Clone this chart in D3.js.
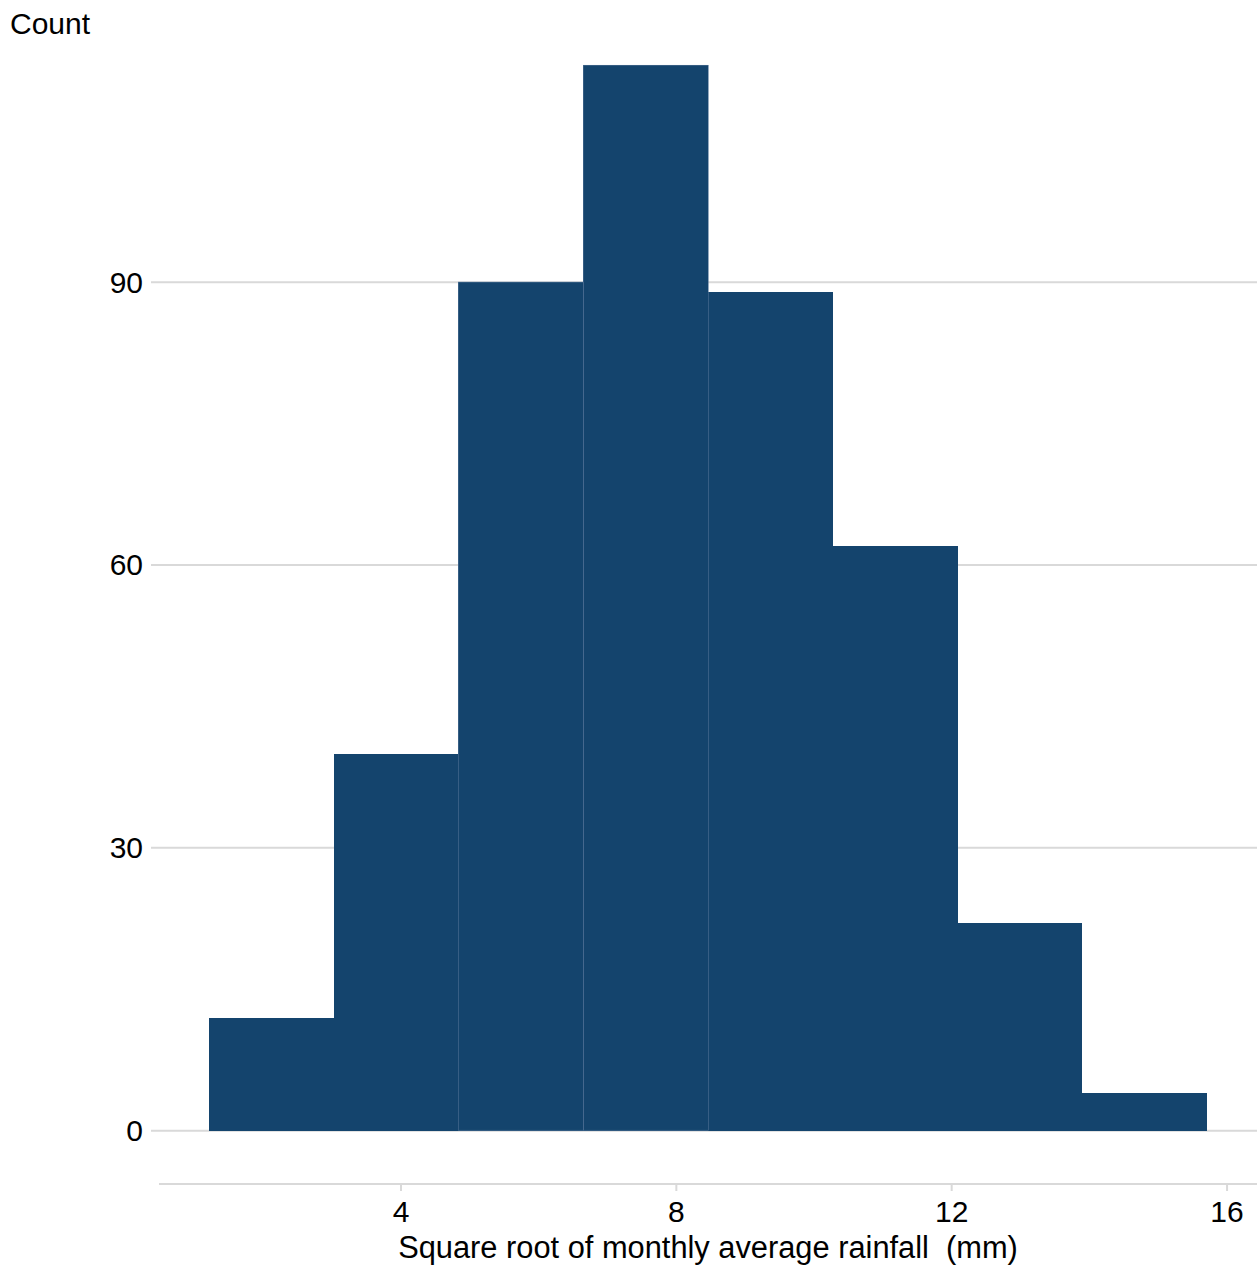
<!DOCTYPE html>
<html><head><meta charset="utf-8">
<script src="https://cdn.jsdelivr.net/npm/d3@7"></script>
<style>body{margin:0;background:#fff}svg{display:block;font-family:"Liberation Sans",Arial,sans-serif}</style>
</head><body>
<script>
const binEdges = [1.21, 3.0225, 4.835, 6.6475, 8.46, 10.2725, 12.085, 13.8975, 15.71];
const counts = [12, 40, 90, 113, 89, 62, 22, 4];
const yTicks = [0, 30, 60, 90];
const xTicks = [4, 8, 12, 16];
const xTitle = "Square root of monthly average rainfall  (mm)";
const yTitle = "Count";

const W = 1257, H = 1268;
const svg = d3.select("body").append("svg").attr("width", W).attr("height", H);

const xr = binEdges[binEdges.length-1] - binEdges[0];
const ymax = d3.max(counts);
const x = d3.scaleLinear().domain([binEdges[0] - 0.05*xr, binEdges[binEdges.length-1] + 0.05*xr]).range([159, 1257]);
const y = d3.scaleLinear().domain([-0.05*ymax, ymax*1.05]).range([1184, 12]);

// gridlines
svg.append("g").selectAll("line").data(yTicks).join("line")
  .attr("x1", 151).attr("x2", W)
  .attr("y1", d => y(d)).attr("y2", d => y(d))
  .attr("stroke", "#d9d9d9").attr("stroke-width", 2);

// y tick labels
svg.append("g").selectAll("text").data(yTicks).join("text")
  .attr("x", 143).attr("y", d => y(d)).attr("dy", "0.35em")
  .attr("text-anchor", "end").attr("font-size", 30).attr("fill", "#000")
  .text(d => d);

// bars
const bins = counts.map((c, i) => ({x0: binEdges[i], x1: binEdges[i+1], c, i}));
svg.append("g").selectAll("rect").data(bins).join("rect")
  .attr("x", d => Math.round(x(d.x0))).attr("width", d => Math.round(x(d.x1)) - Math.round(x(d.x0)))
  .attr("y", d => y(d.c)).attr("height", d => y(0) - y(d.c))
  .attr("fill", "#14446d")
  .attr("shape-rendering", "crispEdges");
svg.append("g").selectAll("rect").data(bins.filter(d => d.i === 2 || d.i === 3)).join("rect")
  .attr("x", d => Math.round(x(d.x0)) + 0.5).attr("width", d => Math.round(x(d.x1)) - Math.round(x(d.x0)))
  .attr("y", d => y(d.c)).attr("height", d => y(0) - y(d.c) - 0.5)
  .attr("fill", "none").attr("stroke", "#4f7094").attr("stroke-width", 0.6);

// x axis
const xa = svg.append("g").attr("transform", "translate(0,1184)");
xa.append("line").attr("x1", 159).attr("x2", W).attr("y1", 0).attr("y2", 0)
  .attr("stroke", "#d9d9d9").attr("stroke-width", 2);
xa.selectAll("line.t").data(xTicks).join("line").attr("class", "t")
  .attr("x1", d => x(d)).attr("x2", d => x(d)).attr("y1", 0).attr("y2", 7)
  .attr("stroke", "#d9d9d9").attr("stroke-width", 2);
xa.selectAll("text").data(xTicks).join("text")
  .attr("x", d => x(d)).attr("y", 38)
  .attr("text-anchor", "middle").attr("font-size", 30).attr("fill", "#000")
  .text(d => d);

svg.append("text").attr("x", (159 + W)/2).attr("y", 1258)
  .attr("text-anchor", "middle").attr("font-size", 30.8).attr("fill", "#000")
  .style("white-space", "pre")
  .text(xTitle);

svg.append("text").attr("x", 10).attr("y", 34)
  .attr("font-size", 30).attr("fill", "#000").text(yTitle);
</script>
</body></html>
